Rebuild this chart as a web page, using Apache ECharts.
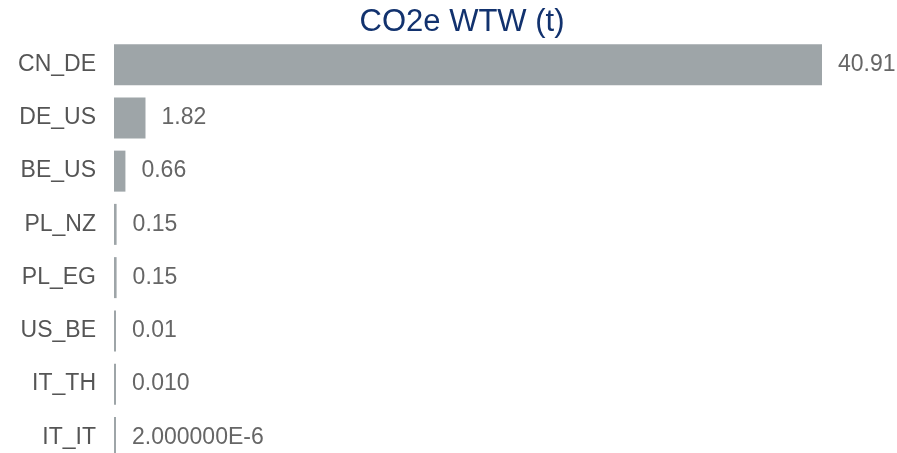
<!DOCTYPE html>
<html>
<head>
<meta charset="utf-8">
<script src="https://cdn.jsdelivr.net/npm/echarts@6/dist/echarts.min.js"></script>
<style>
  html, body { margin: 0; padding: 0; background: #fff; }
  #chart { width: 897px; height: 453px; }
</style>
</head>
<body>
<div id="chart"></div>
<script>
// lanes, top to bottom
const lanes = ["CN_DE", "DE_US", "BE_US", "PL_NZ", "PL_EG", "US_BE", "IT_TH", "IT_IT"];
const co2Values = [40.91, 1.82, 0.66, 0.15, 0.15, 0.01, 0.01, 0.000002];
// labels as printed in the source (mixed formats)
const valueLabels = ["40.91", "1.82", "0.66", "0.15", "0.15", "0.01", "0.010", "2.000000E-6"];

const chart = echarts.init(document.getElementById("chart"));

chart.setOption({
  animation: false,
  title: {
    text: "CO2e WTW (t)",
    left: 457,
    textAlign: "center",
    top: 2,
    textStyle: {
      fontFamily: "Liberation Sans",
      fontSize: 31,
      fontWeight: "normal",
      color: "#12326e",
    },
  },
  grid: {
    left: 114,
    top: 38,
    width: 708,
    height: 426, // last row runs past the bottom edge, as in the source
    containLabel: false,
    outerBoundsMode: "none",
  },
  xAxis: {
    type: "value",
    min: 0,
    max: 40.91,
    show: false,
  },
  yAxis: {
    type: "category",
    data: lanes,
    inverse: true,
    axisLine: { show: false },
    axisTick: { show: false },
    axisLabel: {
      margin: 18,
      fontFamily: "Liberation Sans",
      fontSize: 23,
      color: "#555",
    },
  },
  series: [
    {
      type: "bar",
      data: co2Values,
      barWidth: 41,
      barMinHeight: 2,
      itemStyle: { color: "#9ea5a8" },
      label: {
        show: true,
        position: "right",
        distance: 16,
        fontFamily: "Liberation Sans",
        fontSize: 23,
        color: "#666",
        formatter: (p) => valueLabels[p.dataIndex],
      },
    },
  ],
});
</script>
</body>
</html>
